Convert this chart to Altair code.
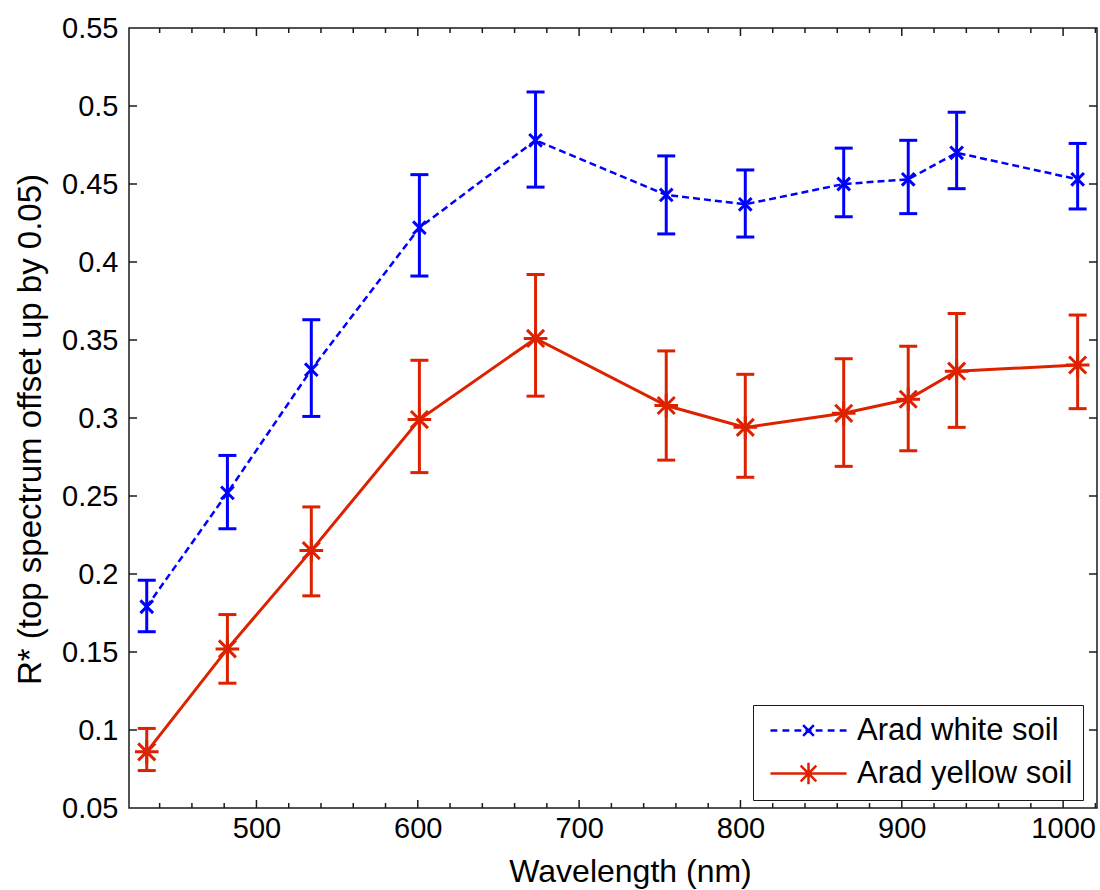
import altair as alt
import pandas as pd

# ---------------- data ----------------
wavelength = [432, 482, 534, 601, 673, 754, 803, 864, 904, 934, 1009]

white = [0.179, 0.252, 0.331, 0.422, 0.478, 0.443, 0.437, 0.450, 0.453, 0.470, 0.453]
white_lo = [0.163, 0.229, 0.301, 0.391, 0.448, 0.418, 0.416, 0.429, 0.431, 0.447, 0.434]
white_hi = [0.196, 0.276, 0.363, 0.456, 0.509, 0.468, 0.459, 0.473, 0.478, 0.496, 0.476]

yellow = [0.086, 0.152, 0.215, 0.299, 0.351, 0.308, 0.294, 0.303, 0.312, 0.330, 0.334]
yellow_lo = [0.074, 0.130, 0.186, 0.265, 0.314, 0.273, 0.262, 0.269, 0.279, 0.294, 0.306]
yellow_hi = [0.101, 0.174, 0.243, 0.337, 0.392, 0.343, 0.328, 0.338, 0.346, 0.367, 0.366]

series_names = ["Arad white soil", "Arad yellow soil"]
series_colors = ["#0000FF", "#DD2200"]

x_major = [500, 600, 700, 800, 900, 1000]
x_minor = [440, 460, 480, 520, 540, 560, 580, 620, 640, 660, 680, 720, 740,
           760, 780, 820, 840, 860, 880, 920, 940, 960, 980, 1020]
y_labels = [0.05, 0.1, 0.15, 0.2, 0.25, 0.3, 0.35, 0.4, 0.45, 0.5, 0.55]
y_inner = [0.1, 0.15, 0.2, 0.25, 0.3, 0.35, 0.4, 0.45, 0.5]

# ---------------- tables ----------------
rows = []
for name, vals, los, his in [(series_names[0], white, white_lo, white_hi),
                             (series_names[1], yellow, yellow_lo, yellow_hi)]:
    for w, v, lo, hi in zip(wavelength, vals, los, his):
        rows.append({"wl": w, "series": name, "val": v, "lo": lo, "hi": hi})
df = pd.DataFrame(rows)

xmaj_df = pd.DataFrame({"v": x_major})
xmin_df = pd.DataFrame({"v": x_minor})
ytk_df = pd.DataFrame({"v": y_inner})

FONT = "Liberation Sans"
FRAME = "#1a1a1a"
W, H = 968, 780

xs = alt.Scale(domain=[421, 1021], nice=False, zero=False)
ys = alt.Scale(domain=[0.05, 0.55], nice=False, zero=False)

X_PATH = "M-1,-1L1,1M-1,1L1,-1"
STAR_PATH = "M-1,0L1,0M0,-1L0,1M-0.72,-0.72L0.72,0.72M-0.72,0.72L0.72,-0.72"

# legend symbols: line segment with the marker in the middle
LEG_BLUE = ("M-3.17,0L-2.6,0M-2.17,0L-1.6,0M-1.17,0L-0.6,0M-0.25,0L0.25,0"
            "M0.6,0L1.17,0M1.6,0L2.17,0M2.6,0L3.17,0"
            "M-0.45,-0.45L0.45,0.45M-0.45,0.45L0.45,-0.45")
LEG_RED = ("M-3.17,0L3.17,0M0,-0.9L0,0.9M-0.9,0L0.9,0"
           "M-0.65,-0.65L0.65,0.65M-0.65,0.65L0.65,-0.65")

x_axis = alt.Axis(values=x_major, format="d", title="Wavelength (nm)", tickSize=0,
                  domain=False, grid=False, labelFontSize=29, labelPadding=6,
                  titleFontSize=32, titleFontWeight="normal", titleX=501, titleY=73,
                  titleBaseline="alphabetic", labelFlush=False)
y_axis = alt.Axis(values=y_labels, format=".2~f", title="R* (top spectrum offset up by 0.05)",
                  tickSize=0, domain=False, grid=False, labelFontSize=29, labelPadding=11,
                  titleFontSize=33, titleFontWeight="normal", titleX=-89, titleY=401,
                  titleBaseline="alphabetic", titleAngle=270, labelFlush=False)


def X(field):
    return alt.X(field, scale=xs, axis=x_axis, title="Wavelength (nm)")


def Y(field):
    return alt.Y(field, scale=ys, axis=y_axis, title="R* (top spectrum offset up by 0.05)")


base = alt.Chart(df)


def series_layers(name, color, dash, lw, path, msize):
    d = base.transform_filter(alt.datum.series == name)
    line_kw = dict(color=color, strokeWidth=lw)
    if dash:
        line_kw["strokeDash"] = dash
    line = d.mark_line(**line_kw).encode(x=X("wl:Q"), y=Y("val:Q"))
    bars = d.mark_rule(color=color, strokeWidth=3, opacity=1).encode(
        x=X("wl:Q"), y=Y("lo:Q"), y2="hi:Q")
    cap_lo = d.mark_tick(color=color, orient="horizontal", size=18, thickness=3,
                         opacity=1).encode(x=X("wl:Q"), y=Y("lo:Q"))
    cap_hi = d.mark_tick(color=color, orient="horizontal", size=18, thickness=3,
                         opacity=1).encode(x=X("wl:Q"), y=Y("hi:Q"))
    pts = d.mark_point(shape=path, size=msize, filled=False, color=color,
                       strokeWidth=3, opacity=1).encode(x=X("wl:Q"), y=Y("val:Q"))
    return [line, bars, cap_lo, cap_hi, pts]


# inward ticks on all four sides
tick_kw = dict(color=FRAME, strokeWidth=1.5, opacity=1)
xt_bot_major = alt.Chart(xmaj_df).mark_rule(**tick_kw).encode(
    x=X("v:Q"), y=alt.value(H), y2=alt.value(H - 8))
xt_top_major = alt.Chart(xmaj_df).mark_rule(**tick_kw).encode(
    x=X("v:Q"), y=alt.value(0), y2=alt.value(8))
xt_bot_minor = alt.Chart(xmin_df).mark_rule(**tick_kw).encode(
    x=X("v:Q"), y=alt.value(H), y2=alt.value(H - 5))
xt_top_minor = alt.Chart(xmin_df).mark_rule(**tick_kw).encode(
    x=X("v:Q"), y=alt.value(0), y2=alt.value(5))
yt_left = alt.Chart(ytk_df).mark_rule(**tick_kw).encode(
    y=Y("v:Q"), x=alt.value(0), x2=alt.value(8))
yt_right = alt.Chart(ytk_df).mark_rule(**tick_kw).encode(
    y=Y("v:Q"), x=alt.value(W), x2=alt.value(W - 8))

# legend layer (no marks drawn, legend only)
leg = alt.Legend(title=None, orient="none", legendX=624, legendY=677,
                 strokeColor=FRAME, fillColor="white", padding=10,
                 symbolOffset=30, labelOffset=33, labelFontSize=31, labelFont=FONT,
                 labelColor="black", symbolSize=576, symbolStrokeWidth=2.5,
                 symbolOpacity=1, rowPadding=11, labelLimit=400,
                 symbolFillColor="transparent")
legend_layer = base.transform_filter("datum.wl < 0").mark_point(filled=False, opacity=1).encode(
    x=X("wl:Q"),
    y=Y("val:Q"),
    color=alt.Color("series:N", scale=alt.Scale(domain=series_names, range=series_colors),
                    legend=leg),
    shape=alt.Shape("series:N", scale=alt.Scale(domain=series_names, range=[LEG_BLUE, LEG_RED]),
                    legend=leg),
)

layers = [xt_bot_major, xt_top_major, xt_bot_minor, xt_top_minor, yt_left, yt_right]
layers += series_layers(series_names[0], series_colors[0], [7, 4], 2.5, X_PATH, 160)
layers += series_layers(series_names[1], series_colors[1], None, 3, STAR_PATH, 560)
layers.append(legend_layer)

chart = alt.layer(*layers).properties(
    width=W, height=H,
    autosize=alt.AutoSizeParams(type="none"),
    padding={"left": 129, "top": 28, "right": 3, "bottom": 82},
    background="white",
).configure_view(
    stroke=FRAME, strokeWidth=1.5
).configure_axis(
    labelFont=FONT, titleFont=FONT, labelColor="black", titleColor="black"
)

chart.save("out.html", embed_options={"renderer": "svg", "actions": False})
